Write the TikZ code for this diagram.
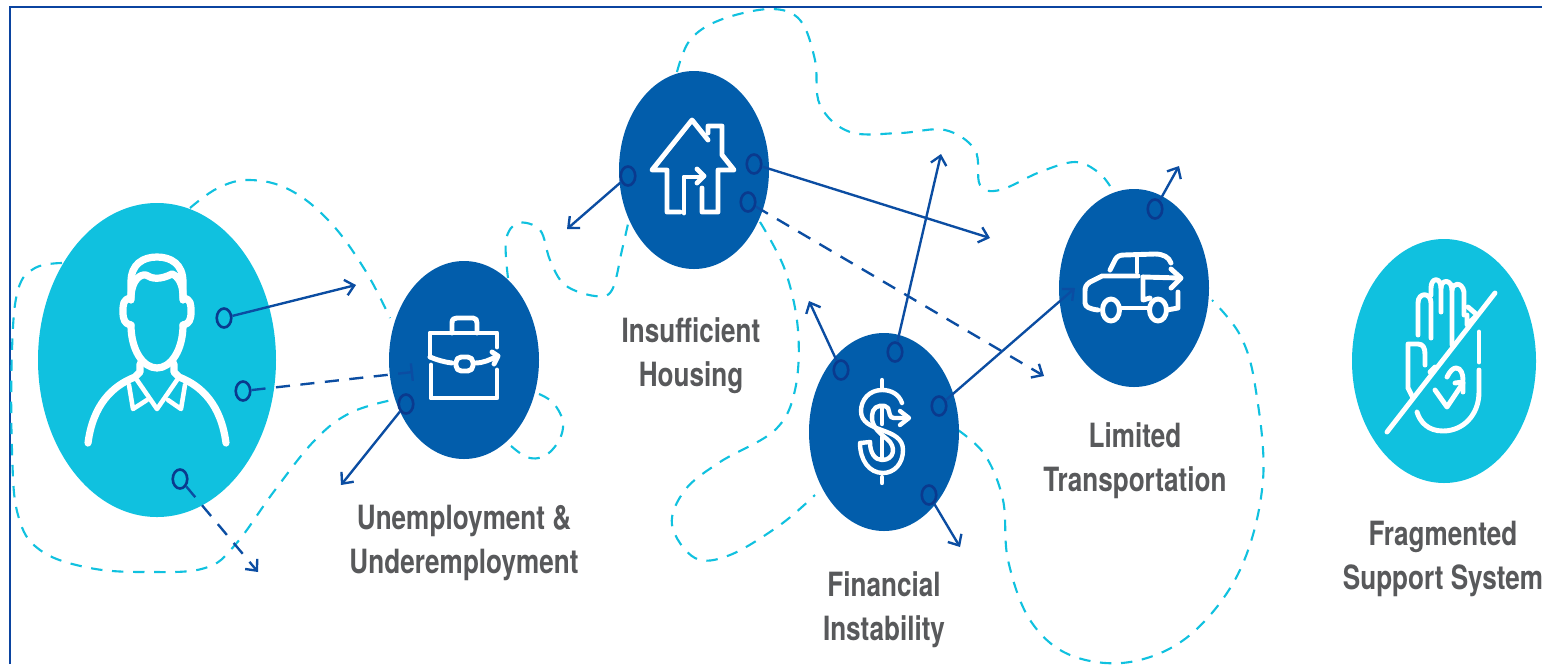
\documentclass[tikz,border=0pt]{standalone}
\usepackage{fontspec}
\setmainfont{TeX Gyre Heros}[FakeStretch=0.782]
\usetikzlibrary{arrows.meta,shapes.geometric}
\definecolor{teal1}{HTML}{10C1DF}
\definecolor{navy1}{HTML}{025DAB}
\definecolor{line1}{HTML}{0B4DA2}
\definecolor{ring1}{HTML}{0A3A8E}
\definecolor{frame1}{HTML}{0B44A0}
\definecolor{label1}{HTML}{58595B}
\tikzset{
  blob/.style n args={3}{ellipse,fill=#3,minimum width=#1*0.02cm,minimum height=#2*0.02cm,inner sep=0pt},
  ringdot/.style={ellipse,draw=ring1,line width=1.5pt,minimum width=0.29cm,minimum height=0.38cm,inner sep=0pt},
  link/.style={draw=line1,line width=1.35pt,-{Straight Barb[length=5pt,width=9pt,line width=1.35pt]}},
  dlink/.style={link,dash pattern=on 8pt off 6pt},
  wander/.style={draw=teal1,line width=1.2pt,dash pattern=on 6.5pt off 5.5pt},
  icon/.style={draw=white,line width=2.8pt,line cap=round,line join=round},
  lab/.style={text=label1,align=center,font=\fontsize{19}{25}\selectfont\bfseries,inner sep=0pt},
}
\begin{document}
\begin{tikzpicture}[x=0.02cm,y=-0.02cm]
\useasboundingbox (0,0) rectangle (1542,664);
\fill[white] (0,0) rectangle (1542,664);
\draw[frame1,line width=1.3pt] (10,664) -- (10,7) -- (1542,7);
% wandering dashed outlines
\draw[wander] plot[smooth,tension=0.65] coordinates {(190,208)(218,188)(250,180)(290,190)(330,222)(365,270)(390,318)};
\draw[wander] plot[smooth,tension=0.65] coordinates {(62,263)(35,268)(18,290)(12,350)(12,450)(18,515)(40,550)(90,568)(150,572)(205,568)(235,545)(275,490)(315,440)(350,413)(392,400)};
\draw[wander] plot[smooth,tension=0.7] coordinates {(539,394)(555,405)(563,428)(550,452)(530,458)(510,445)};
\draw[wander] plot[smooth,tension=0.6] coordinates {(508,278)(506,240)(518,223)(540,230)(550,260)(565,285)(595,296)(612,290)(622,250)(630,215)};
\draw[wander] plot[smooth,tension=0.6] coordinates {(677,72)(690,40)(720,20)(770,9)(800,20)(815,60)(820,105)(850,132)(900,133)(945,130)(975,150)(980,185)(1000,190)(1040,172)(1075,162)(1098,172)(1110,186)};
\draw[wander] plot[smooth,tension=0.6] coordinates {(760,222)(785,270)(798,330)(795,390)(775,430)(720,462)(685,490)(672,525)(695,558)(730,555)(780,525)(815,495)};
\draw[wander] plot[smooth,tension=0.6] coordinates {(958,430)(985,455)(1003,500)(1008,560)(1030,620)(1070,655)(1130,662)(1190,635)(1240,570)(1263,480)(1255,385)(1240,335)(1212,300)};
% discs
\node[blob={238}{314}{teal1}] (person) at (157,360) {};
\node[blob={150}{198}{navy1}] (job) at (464,360) {};
\node[blob={150}{198}{navy1}] (house) at (694,170) {};
\node[blob={150}{198}{navy1}] (money) at (884,432) {};
\node[blob={150}{198}{navy1}] (car) at (1134,288) {};
\node[blob={184}{244}{teal1}] (hand) at (1444,361) {};
% person icon
\begin{scope}[icon,line width=4.1pt]
\draw (131,300) -- (131,282) .. controls (131,264) and (143,257) .. (157,257) .. controls (171,257) and (183,264) .. (183,282) -- (183,300);
\draw (131,296) .. controls (132,280) and (140,274) .. (146,275) .. controls (152,279) and (160,280) .. (172,274) .. controls (178,276) and (183,284) .. (183,296);
\draw (131,298) .. controls (123,299) and (123,304) .. (123,312) .. controls (123,320) and (125,324) .. (131,325);
\draw (183,298) .. controls (191,299) and (191,304) .. (191,312) .. controls (191,320) and (189,324) .. (183,325);
\draw (131,325) .. controls (131,350) and (143,368) .. (157,368) .. controls (171,368) and (183,350) .. (183,325);
\draw (140,364) -- (140,372) -- (135,377) .. controls (112,386) and (93,405) .. (88,443);
\draw (174,364) -- (174,372) -- (179,377) .. controls (202,386) and (221,405) .. (226,443);
\end{scope}
\begin{scope}[icon,line width=2.6pt]
\draw (129,385) -- (133,409) -- (147,400);
\draw (137,380) -- (157,409) -- (177,380);
\draw (185,385) -- (181,409) -- (168,400);
\end{scope}
% briefcase icon
\begin{scope}[icon]
\draw (452,333) -- (452,323) .. controls (452,319) and (454,318) .. (457,318) -- (473,318) .. controls (476,318) and (477,320) .. (477,323) -- (477,333);
\draw (430,357) -- (430,333) -- (497,333) -- (497,347);
\draw (431,365) -- (431,398) -- (497,398) -- (497,370);
\draw (430,357) .. controls (437,360) and (444,362) .. (452,363);
\draw[rounded corners=3pt] (456,357) rectangle (473,371);
\draw (475,363) .. controls (483,363) and (490,360) .. (497,356);
\draw (492,352) -- (498,356) -- (494,364);
\end{scope}
% house icon
\begin{scope}[icon]
\draw (708,140) -- (692,120) -- (652,170) -- (667,170) -- (667,212) -- (680,212);
\draw (684,213) -- (684,177) -- (703,177);
\draw (697,169) -- (704,176) -- (697,183);
\draw (702,188) -- (702,212) -- (718,212) -- (718,170) -- (734,170) -- (722,155) -- (722,126) -- (708,126) -- (708,133);
\end{scope}
% dollar icon
\begin{scope}[icon,line width=2.5pt]
\draw (882,380) -- (882,388);
\draw (882,477) -- (882,483);
\draw (902,403) .. controls (899,394) and (891,390) .. (882,390) .. controls (869,390) and (861,400) .. (861,411) .. controls (861,434) and (903,426) .. (903,450) .. controls (903,464) and (894,473) .. (883,473) .. controls (869,473) and (860,460) .. (860,443) -- (870,442);
\draw (870,442) .. controls (870,453) and (875,460) .. (882,460) .. controls (894,460) and (897,447) .. (887,439) .. controls (877,431) and (869,424) .. (873,411) .. controls (875,405) and (885,404) .. (888,408) .. controls (890,413) and (889,418) .. (894,418) -- (908,418);
\draw (882,408) -- (882,424);
\draw (882,437) -- (882,458);
\draw (900,411) -- (909,418) -- (900,425);
\end{scope}
% car icon
\begin{scope}[icon]
\draw (1110,270) -- (1115,260) .. controls (1117,256) and (1120,255) .. (1124,255) -- (1155,254) .. controls (1163,254) and (1169,257) .. (1171,263);
\draw (1137,256) -- (1137,272);
\draw (1138,276) -- (1102,276) -- (1090,282) .. controls (1086,285) and (1085,287) .. (1085,291) -- (1085,303) .. controls (1085,307) and (1090,309) .. (1098,310);
\draw (1143,277) -- (1180,278);
\draw (1171,269) -- (1181,278) -- (1171,288);
\draw (1143,277) -- (1143,300) -- (1150,298);
\draw (1111,310) ellipse (8.5 and 11);
\draw (1158,310) ellipse (8.5 and 11);
\draw (1120,308) -- (1149,308);
\draw (1167,310) -- (1178,308) -- (1178,292);
\end{scope}
% hand icon
\begin{scope}[icon]
\draw (1387,432) -- (1495,293);
\draw (1418,335) -- (1418,303) .. controls (1418,292) and (1431,292) .. (1431,303) -- (1431,338);
\draw (1431,295) -- (1431,288) .. controls (1431,277) and (1441,277) .. (1441,288) -- (1441,312);
\draw (1441,288) .. controls (1441,279) and (1452,279) .. (1452,290) -- (1452,345);
\draw (1452,290) .. controls (1452,283) and (1462,281) .. (1464,292) -- (1464,315);
\draw (1467,315) -- (1467,325) -- (1475,317);
\draw (1468,307) -- (1475,313);
\draw (1425,365) -- (1425,354) .. controls (1425,348) and (1423,344) .. (1418,344) -- (1408,344) -- (1408,388) -- (1413,398);
\draw (1430,372) -- (1435,367);
\draw (1479,332) -- (1479,362);
\draw (1479,370) -- (1479,392) .. controls (1479,415) and (1463,431) .. (1443,431) .. controls (1428,431) and (1420,422) .. (1417,412);
\draw (1435,390) -- (1447,407) -- (1463,383);
\draw (1455,383) -- (1463,382) -- (1463,392);
\draw (1447,377) .. controls (1450,371) and (1453,368) .. (1456,368) .. controls (1461,368) and (1463,374) .. (1463,380);
\end{scope}
% ring markers
\node[ringdot] (a1) at (224,318) {};
\node[ringdot] (a2) at (243,391) {};
\node[ringdot] (a3) at (180,479) {};
\node[ringdot] (b1) at (406,404) {};
\node[ringdot] (c1) at (628,176) {};
\node[ringdot] (c2) at (754,164) {};
\node[ringdot] (c3) at (748,202) {};
\node[ringdot] (d1) at (841,370) {};
\node[ringdot] (d2) at (895,352) {};
\node[ringdot] (d3) at (939,406) {};
\node[ringdot] (d4) at (929,495) {};
\node[ringdot] (e1) at (1155,209) {};
% connector ends
\coordinate (ta1) at (356,285);
\coordinate (ta2) at (413,372);
\coordinate (ta3) at (258,572);
\coordinate (tb1) at (341,485);
\coordinate (tc1) at (567,229);
\coordinate (tc2) at (990,238);
\coordinate (tc3) at (1044,376);
\coordinate (td1) at (809,301);
\coordinate (td2) at (941,154);
\coordinate (td3) at (1075,288);
\coordinate (td4) at (960,547);
\coordinate (te1) at (1179,166);
\draw[link] (a1) -- (ta1);
\draw[dlink,-{Bar[width=10pt,line width=1.35pt]}] (a2) -- (ta2);
\draw[dlink] (a3) -- (ta3);
\draw[link] (b1) -- (tb1);
\draw[link] (c1) -- (tc1);
\draw[link] (c2) -- (tc2);
\draw[dlink] (c3) -- (tc3);
\draw[link] (d1) -- (td1);
\draw[link] (d2) -- (td2);
\draw[link] (d3) -- (td3);
\draw[link] (d4) -- (td4);
\draw[link] (e1) -- (te1);
% labels
\node[lab] (l1) at (464,543) {Unemployment \&\\Underemployment};
\node[lab] (l2) at (691,356) {Insufficient\\Housing};
\node[lab] (l3) at (884,610) {Financial\\Instability};
\node[lab] (l4) at (1135,461) {Limited\\Transportation};
\node[lab] (l5) at (1443,559) {Fragmented\\Support System};
\end{tikzpicture}
\end{document}
